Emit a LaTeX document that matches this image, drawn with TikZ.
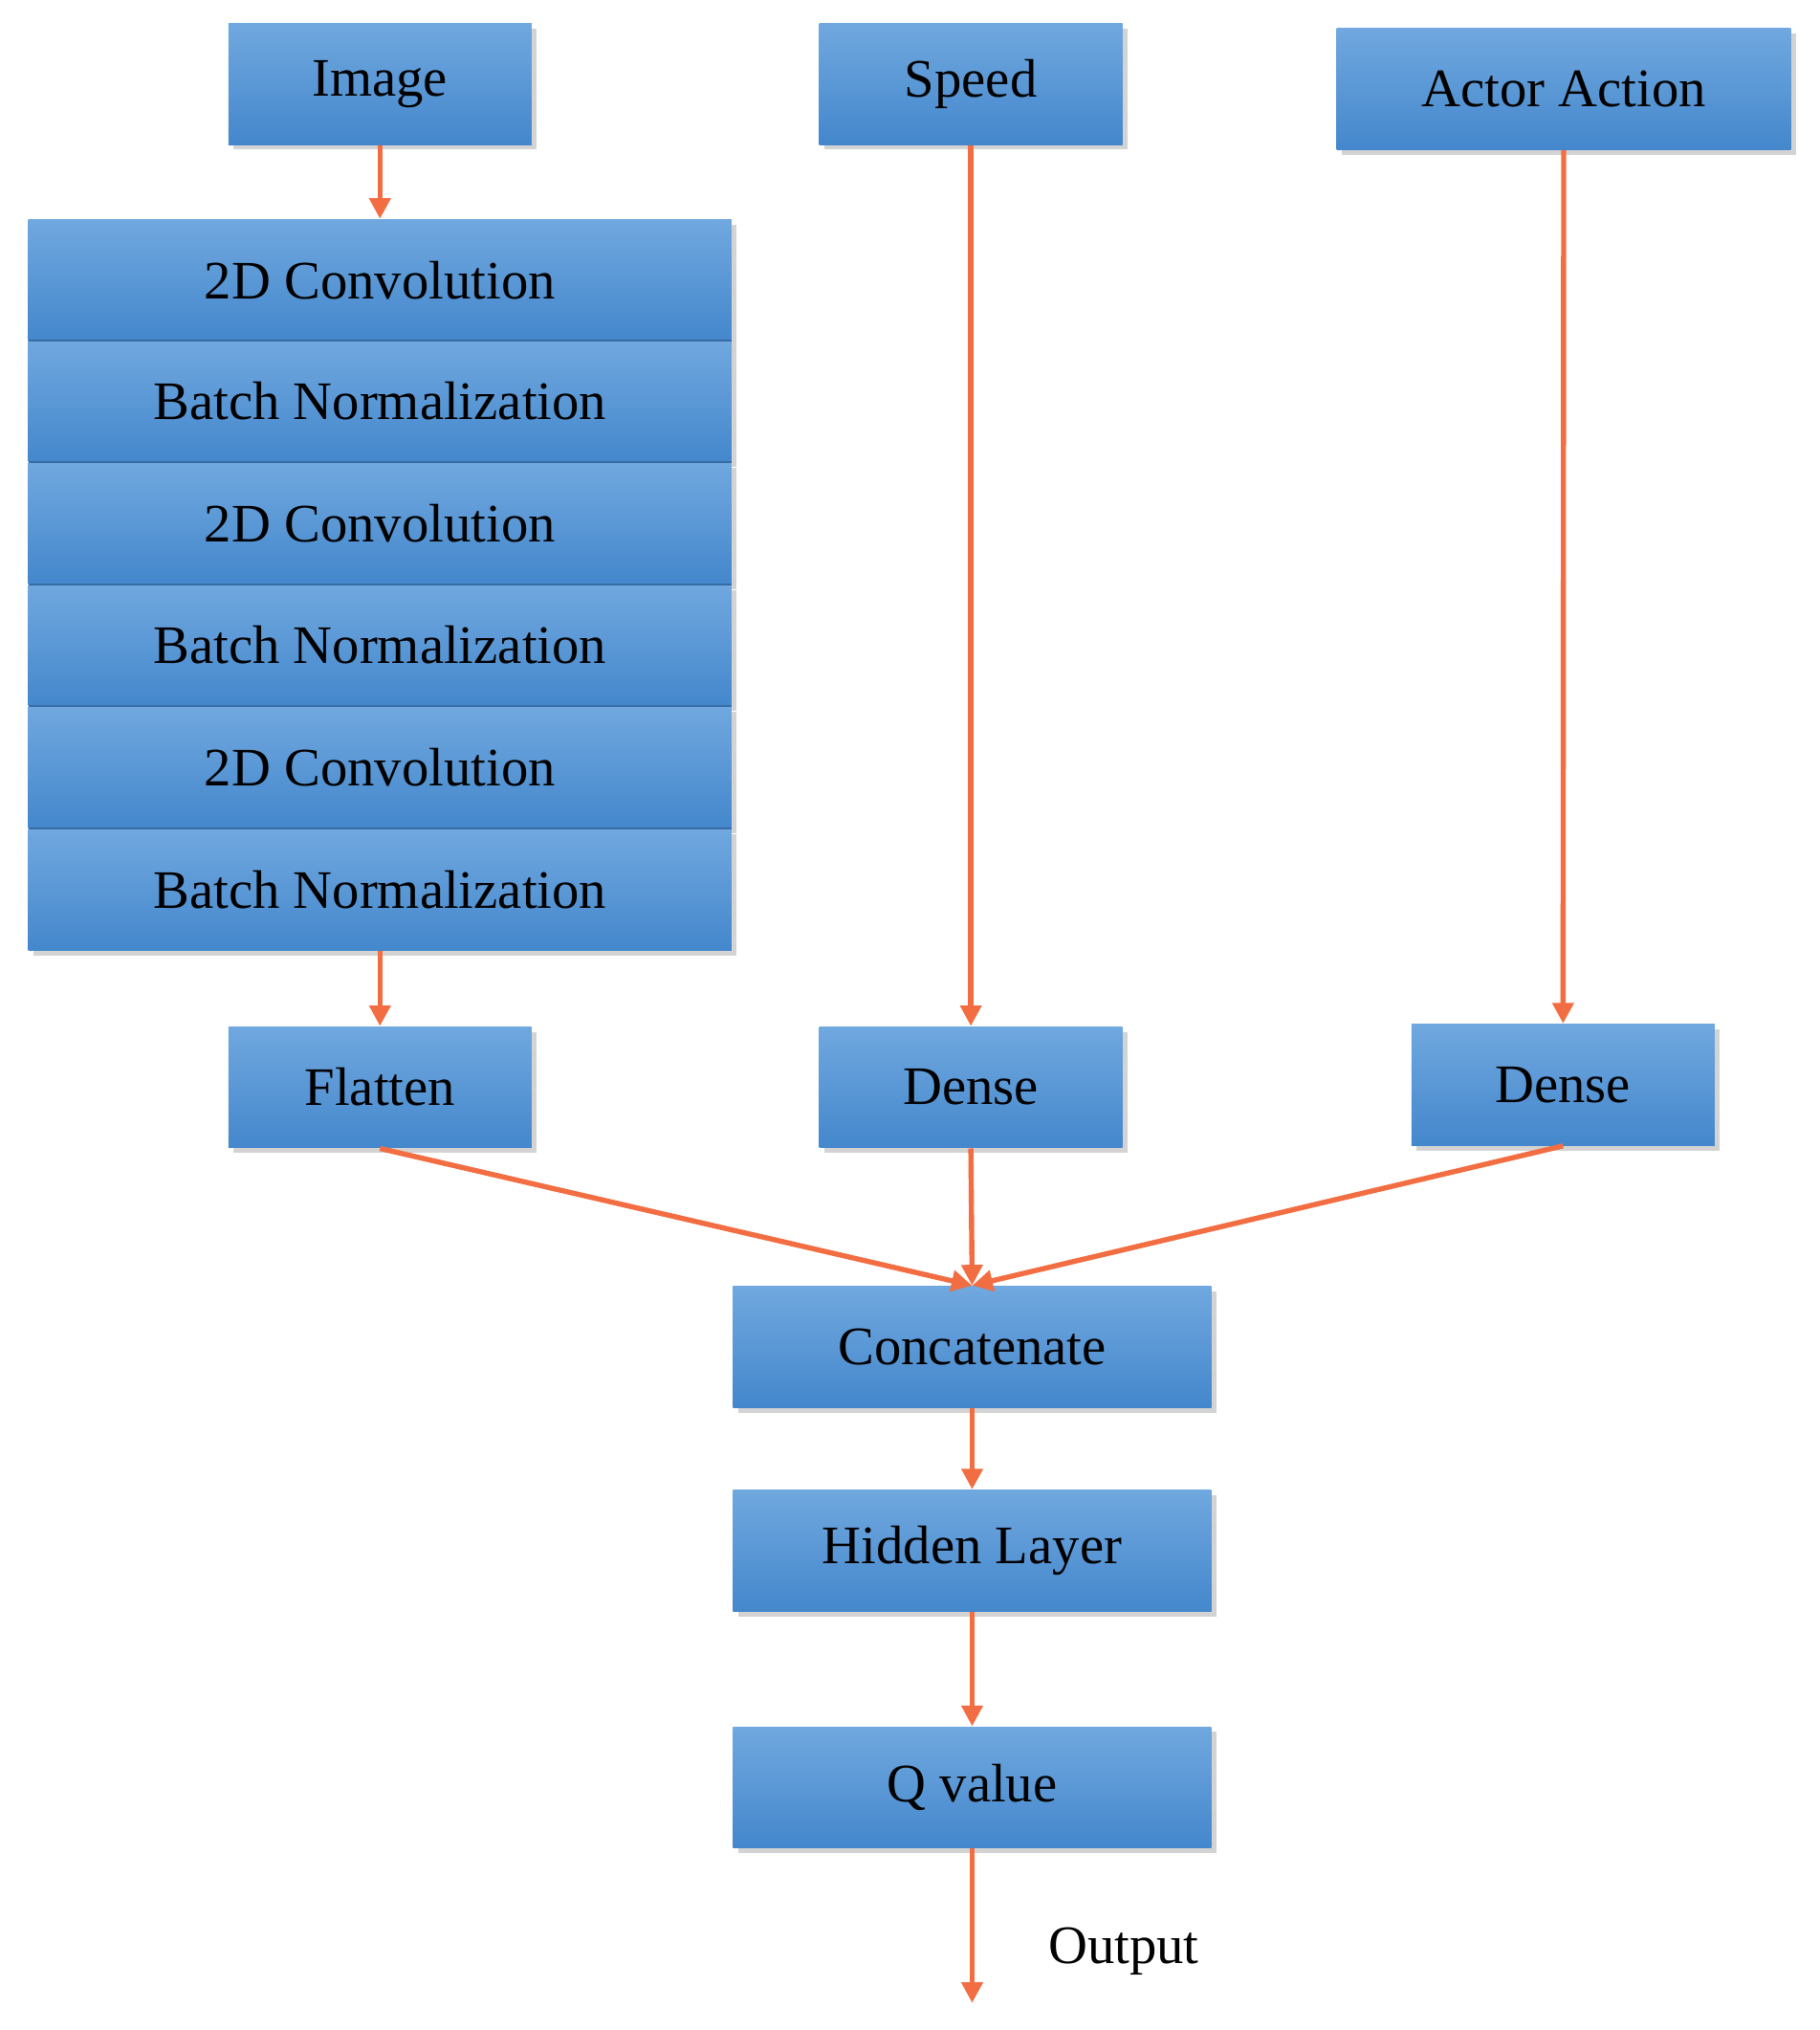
\documentclass[tikz,border=0pt]{standalone}
\usepackage{fontspec}
\setmainfont{Liberation Serif}
\usetikzlibrary{shadows,arrows.meta}
\definecolor{arr}{HTML}{F26D42}
\definecolor{btop}{HTML}{70A8DF}
\definecolor{bbot}{HTML}{4487CC}
\begin{document}
\begin{tikzpicture}[x=0.5pt,y=-0.5pt,
  box/.style={draw=none,top color=btop,bottom color=bbot,minimum height=47pt,inner sep=0pt,
    drop shadow={shadow xshift=2pt,shadow yshift=-2pt,opacity=0.35},font=\fontsize{21}{24}\selectfont},
  a/.style={draw=arr,line width=2pt,-{Triangle[length=8pt,width=8pt]}}]
\useasboundingbox (0,0) rectangle (1410,1573);
\node[box,minimum width=117.5pt] (img) at (294.5,65) {Image};
\node[box,minimum width=117.5pt] (spd) at (752.5,65) {Speed};
\node[box,minimum width=176pt] (act) at (1212,69) {Actor Action};
\node[box,minimum width=272.5pt] (c1) at (294.5,217) {2D Convolution};
\node[box,minimum width=272.5pt] (b1) at (294.5,311) {Batch Normalization};
\node[box,minimum width=272.5pt] (c2) at (294.5,405.5) {2D Convolution};
\node[box,minimum width=272.5pt] (b2) at (294.5,500) {Batch Normalization};
\node[box,minimum width=272.5pt] (c3) at (294.5,594.5) {2D Convolution};
\node[box,minimum width=272.5pt] (b3) at (294.5,689.5) {Batch Normalization};
\foreach \y in {264,358,453,547,642} \draw[bbot!80!black,line width=0.6pt] (22,\y) -- (567,\y);
\node[box,minimum width=117.5pt] (fl) at (294.5,842.5) {Flatten};
\node[box,minimum width=117.5pt] (d1) at (752.5,842.5) {Dense};
\node[box,minimum width=117.5pt] (d2) at (1211.5,840.5) {Dense};
\node[box,minimum width=185.5pt] (cat) at (753.5,1043.5) {Concatenate};
\node[box,minimum width=185.5pt] (hid) at (753.5,1201.5) {Hidden Layer};
\node[box,minimum width=185.5pt] (q) at (753.5,1385) {Q value};
\coordinate (out) at (753.5,1552);
\node[font=\fontsize{21}{24}\selectfont] (ot) at (871,1512) {Output};
\draw[a] (img.south) -- (c1.north);
\draw[a] (b3.south) -- (fl.north);
\draw[a] (spd.south) -- (d1.north);
\draw[a] (act.south) -- (d2.north);
\draw[a] (fl.south) -- (cat.north);
\draw[a] (d1.south) -- (cat.north);
\draw[a] (d2.south) -- (cat.north);
\draw[a] (cat.south) -- (hid.north);
\draw[a] (hid.south) -- (q.north);
\draw[a] (q.south) -- (out);
\end{tikzpicture}
\end{document}
